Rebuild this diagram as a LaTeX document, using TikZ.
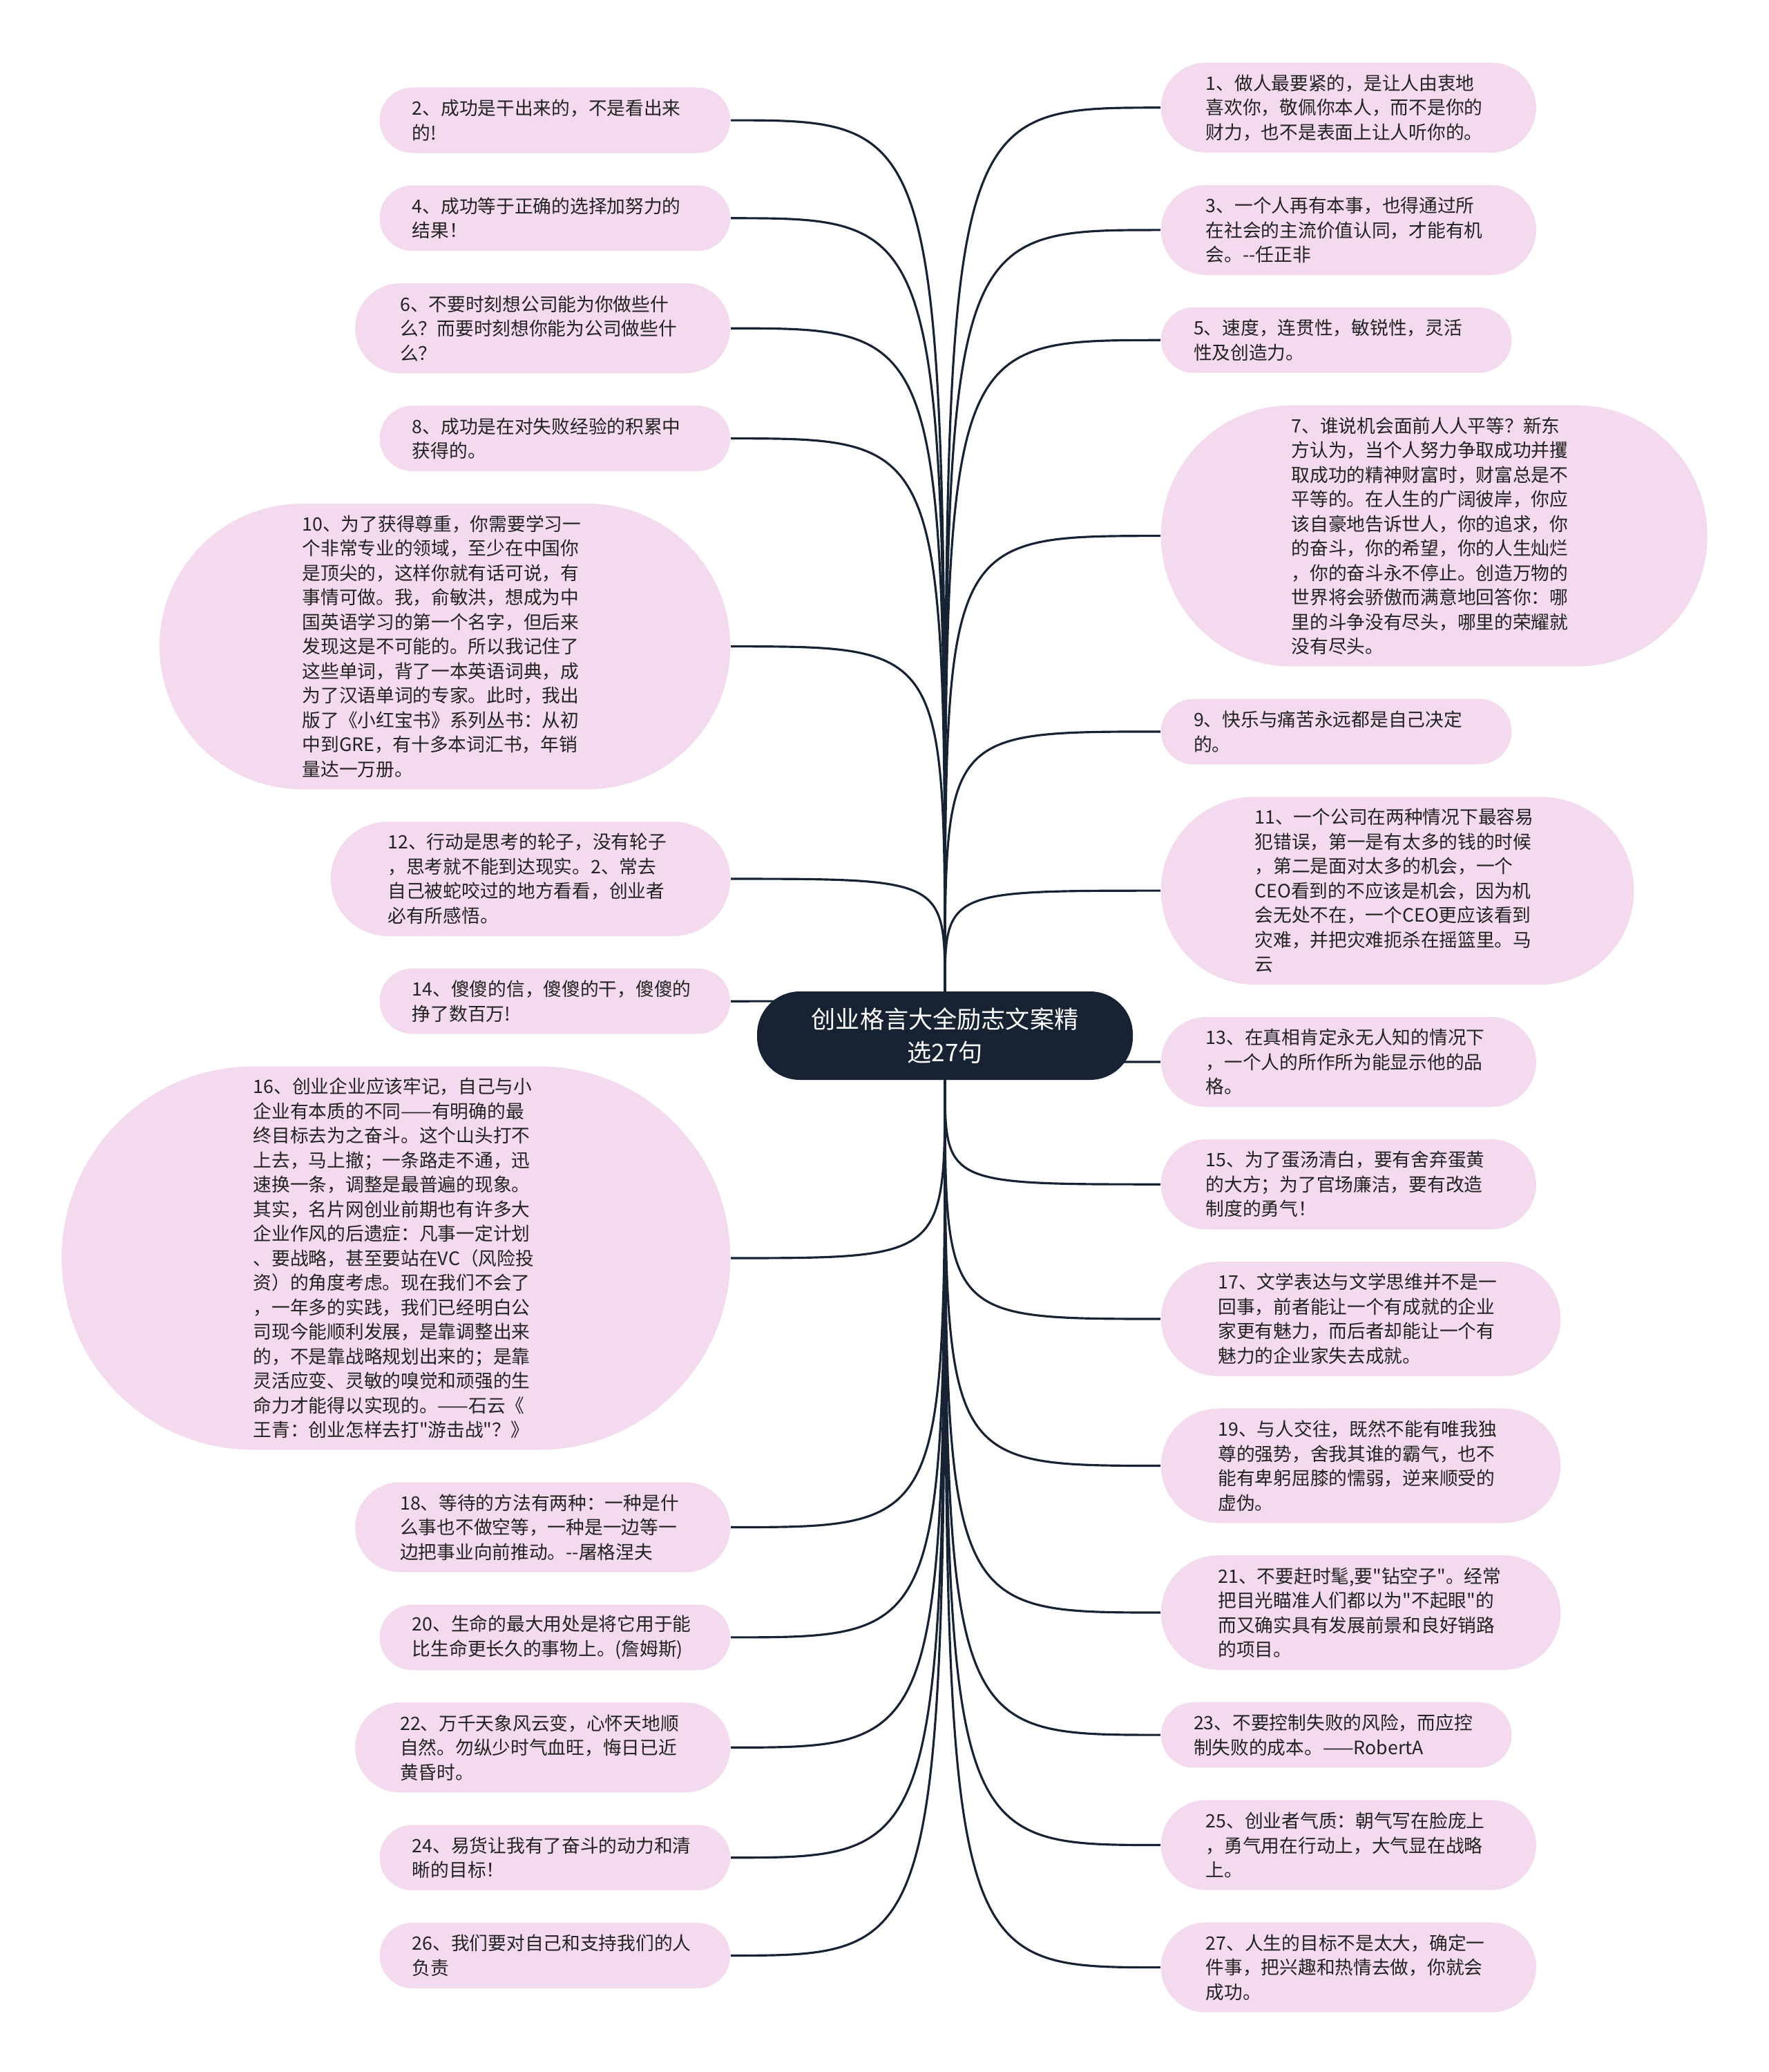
\documentclass[tikz,border=0pt]{standalone}
\usepackage{fontspec}
\newfontfamily\cjk{Noto Sans CJK SC}
\usepackage{xcolor}
\usepackage{tikz}
\usetikzlibrary{positioning, backgrounds}
\definecolor{mynavy}{RGB}{23,35,50}
\definecolor{mypink}{RGB}{244,218,238}
\definecolor{mytext}{RGB}{34,34,34}
\tikzset{
  saying/.style={rectangle, fill=mypink, text=mytext, text width=4.13cm,
    align=left, inner ysep=0pt, inner xsep=0.177cm*#1+0.12cm,
    minimum height=0.354cm*#1+0.24cm, rounded corners=0.177cm*#1+0.12cm,
    font=\cjk\fontsize{7.6pt}{10.1pt}\selectfont},
  hubnode/.style={rectangle, fill=mynavy, text=white, align=center,
    minimum width=5.44cm, minimum height=1.28cm, rounded corners=0.62cm,
    font=\cjk\fontsize{10pt}{13.6pt}\selectfont},
  link/.style={line width=0.9pt, color=mynavy}
}

\begin{document}
\begin{tikzpicture}
  \useasboundingbox (0,0) rectangle (25.6,-29.99);

  \node[hubnode] (hub) at (13.68,-14.99) {创业格言大全励志文案精\\选27句};

  % left column
  \node[saying=2, anchor=north east] (q2) at (10.58,-1.26) {2、成功是干出来的，不是看出来\\的!};
  \node[saying=2, below=0.455cm of q2.south east, anchor=north east] (q4) {4、成功等于正确的选择加努力的\\结果！};
  \node[saying=3, below=0.455cm of q4.south east, anchor=north east] (q6) {6、不要时刻想公司能为你做些什\\么？而要时刻想你能为公司做些什\\么？};
  \node[saying=2, below=0.455cm of q6.south east, anchor=north east] (q8) {8、成功是在对失败经验的积累中\\获得的。};
  \node[saying=11, below=0.455cm of q8.south east, anchor=north east] (q10) {10、为了获得尊重，你需要学习一\\个非常专业的领域，至少在中国你\\是顶尖的，这样你就有话可说，有\\事情可做。我，俞敏洪，想成为中\\国英语学习的第一个名字，但后来\\发现这是不可能的。所以我记住了\\这些单词，背了一本英语词典，成\\为了汉语单词的专家。此时，我出\\版了《小红宝书》系列丛书：从初\\中到GRE，有十多本词汇书，年销\\量达一万册。};
  \node[saying=4, below=0.455cm of q10.south east, anchor=north east] (q12) {12、行动是思考的轮子，没有轮子\\，思考就不能到达现实。2、常去\\自己被蛇咬过的地方看看，创业者\\必有所感悟。};
  \node[saying=2, below=0.455cm of q12.south east, anchor=north east] (q14) {14、傻傻的信，傻傻的干，傻傻的\\挣了数百万!};
  \node[saying=15, below=0.455cm of q14.south east, anchor=north east] (q16) {16、创业企业应该牢记，自己与小\\企业有本质的不同——有明确的最\\终目标去为之奋斗。这个山头打不\\上去，马上撤；一条路走不通，迅\\速换一条，调整是最普遍的现象。\\其实，名片网创业前期也有许多大\\企业作风的后遗症：凡事一定计划\\、要战略，甚至要站在VC（风险投\\资）的角度考虑。现在我们不会了\\，一年多的实践，我们已经明白公\\司现今能顺利发展，是靠调整出来\\的，不是靠战略规划出来的；是靠\\灵活应变、灵敏的嗅觉和顽强的生\\命力才能得以实现的。——石云《\\王青：创业怎样去打"游击战"？》};
  \node[saying=3, below=0.455cm of q16.south east, anchor=north east] (q18) {18、等待的方法有两种：一种是什\\么事也不做空等，一种是一边等一\\边把事业向前推动。--屠格涅夫};
  \node[saying=2, below=0.455cm of q18.south east, anchor=north east] (q20) {20、生命的最大用处是将它用于能\\比生命更长久的事物上。(詹姆斯)};
  \node[saying=3, below=0.455cm of q20.south east, anchor=north east] (q22) {22、万千天象风云变，心怀天地顺\\自然。勿纵少时气血旺，悔日已近\\黄昏时。};
  \node[saying=2, below=0.455cm of q22.south east, anchor=north east] (q24) {24、易货让我有了奋斗的动力和清\\晰的目标！};
  \node[saying=2, below=0.455cm of q24.south east, anchor=north east] (q26) {26、我们要对自己和支持我们的人\\负责};

  % right column
  \node[saying=3, anchor=north west] (q1) at (16.80,-0.90) {1、做人最要紧的，是让人由衷地\\喜欢你，敬佩你本人，而不是你的\\财力，也不是表面上让人听你的。};
  \node[saying=3, below=0.455cm of q1.south west, anchor=north west] (q3) {3、一个人再有本事，也得通过所\\在社会的主流价值认同，才能有机\\会。--任正非};
  \node[saying=2, below=0.455cm of q3.south west, anchor=north west] (q5) {5、速度，连贯性，敏锐性，灵活\\性及创造力。};
  \node[saying=10, below=0.455cm of q5.south west, anchor=north west] (q7) {7、谁说机会面前人人平等？新东\\方认为，当个人努力争取成功并攫\\取成功的精神财富时，财富总是不\\平等的。在人生的广阔彼岸，你应\\该自豪地告诉世人，你的追求，你\\的奋斗，你的希望，你的人生灿烂\\，你的奋斗永不停止。创造万物的\\世界将会骄傲而满意地回答你：哪\\里的斗争没有尽头，哪里的荣耀就\\没有尽头。};
  \node[saying=2, below=0.455cm of q7.south west, anchor=north west] (q9) {9、快乐与痛苦永远都是自己决定\\的。};
  \node[saying=7, below=0.455cm of q9.south west, anchor=north west] (q11) {11、一个公司在两种情况下最容易\\犯错误，第一是有太多的钱的时候\\，第二是面对太多的机会，一个\\CEO看到的不应该是机会，因为机\\会无处不在，一个CEO更应该看到\\灾难，并把灾难扼杀在摇篮里。马\\云};
  \node[saying=3, below=0.455cm of q11.south west, anchor=north west] (q13) {13、在真相肯定永无人知的情况下\\，一个人的所作所为能显示他的品\\格。};
  \node[saying=3, below=0.455cm of q13.south west, anchor=north west] (q15) {15、为了蛋汤清白，要有舍弃蛋黄\\的大方；为了官场廉洁，要有改造\\制度的勇气！};
  \node[saying=4, below=0.455cm of q15.south west, anchor=north west] (q17) {17、文学表达与文学思维并不是一\\回事，前者能让一个有成就的企业\\家更有魅力，而后者却能让一个有\\魅力的企业家失去成就。};
  \node[saying=4, below=0.455cm of q17.south west, anchor=north west] (q19) {19、与人交往，既然不能有唯我独\\尊的强势，舍我其谁的霸气，也不\\能有卑躬屈膝的懦弱，逆来顺受的\\虚伪。};
  \node[saying=4, below=0.455cm of q19.south west, anchor=north west] (q21) {21、不要赶时髦,要"钻空子"。经常\\把目光瞄准人们都以为"不起眼"的\\而又确实具有发展前景和良好销路\\的项目。};
  \node[saying=2, below=0.455cm of q21.south west, anchor=north west] (q23) {23、不要控制失败的风险，而应控\\制失败的成本。——RobertA};
  \node[saying=3, below=0.455cm of q23.south west, anchor=north west] (q25) {25、创业者气质：朝气写在脸庞上\\，勇气用在行动上，大气显在战略\\上。};
  \node[saying=3, below=0.455cm of q25.south west, anchor=north west] (q27) {27、人生的目标不是太大，确定一\\件事，把兴趣和热情去做，你就会\\成功。};

  \begin{scope}[on background layer]
    \draw[link] (hub) .. controls (hub |- q2) .. (q2.east);
    \draw[link] (hub) .. controls (hub |- q4) .. (q4.east);
    \draw[link] (hub) .. controls (hub |- q6) .. (q6.east);
    \draw[link] (hub) .. controls (hub |- q8) .. (q8.east);
    \draw[link] (hub) .. controls (hub |- q10) .. (q10.east);
    \draw[link] (hub) .. controls (hub |- q12) .. (q12.east);
    \draw[link] (hub) .. controls (hub |- q14) .. (q14.east);
    \draw[link] (hub) .. controls (hub |- q16) .. (q16.east);
    \draw[link] (hub) .. controls (hub |- q18) .. (q18.east);
    \draw[link] (hub) .. controls (hub |- q20) .. (q20.east);
    \draw[link] (hub) .. controls (hub |- q22) .. (q22.east);
    \draw[link] (hub) .. controls (hub |- q24) .. (q24.east);
    \draw[link] (hub) .. controls (hub |- q26) .. (q26.east);
    \draw[link] (hub) .. controls (hub |- q1) .. (q1.west);
    \draw[link] (hub) .. controls (hub |- q3) .. (q3.west);
    \draw[link] (hub) .. controls (hub |- q5) .. (q5.west);
    \draw[link] (hub) .. controls (hub |- q7) .. (q7.west);
    \draw[link] (hub) .. controls (hub |- q9) .. (q9.west);
    \draw[link] (hub) .. controls (hub |- q11) .. (q11.west);
    \draw[link] (hub) .. controls (hub |- q13) .. (q13.west);
    \draw[link] (hub) .. controls (hub |- q15) .. (q15.west);
    \draw[link] (hub) .. controls (hub |- q17) .. (q17.west);
    \draw[link] (hub) .. controls (hub |- q19) .. (q19.west);
    \draw[link] (hub) .. controls (hub |- q21) .. (q21.west);
    \draw[link] (hub) .. controls (hub |- q23) .. (q23.west);
    \draw[link] (hub) .. controls (hub |- q25) .. (q25.west);
    \draw[link] (hub) .. controls (hub |- q27) .. (q27.west);
  \end{scope}
\end{tikzpicture}
\end{document}
